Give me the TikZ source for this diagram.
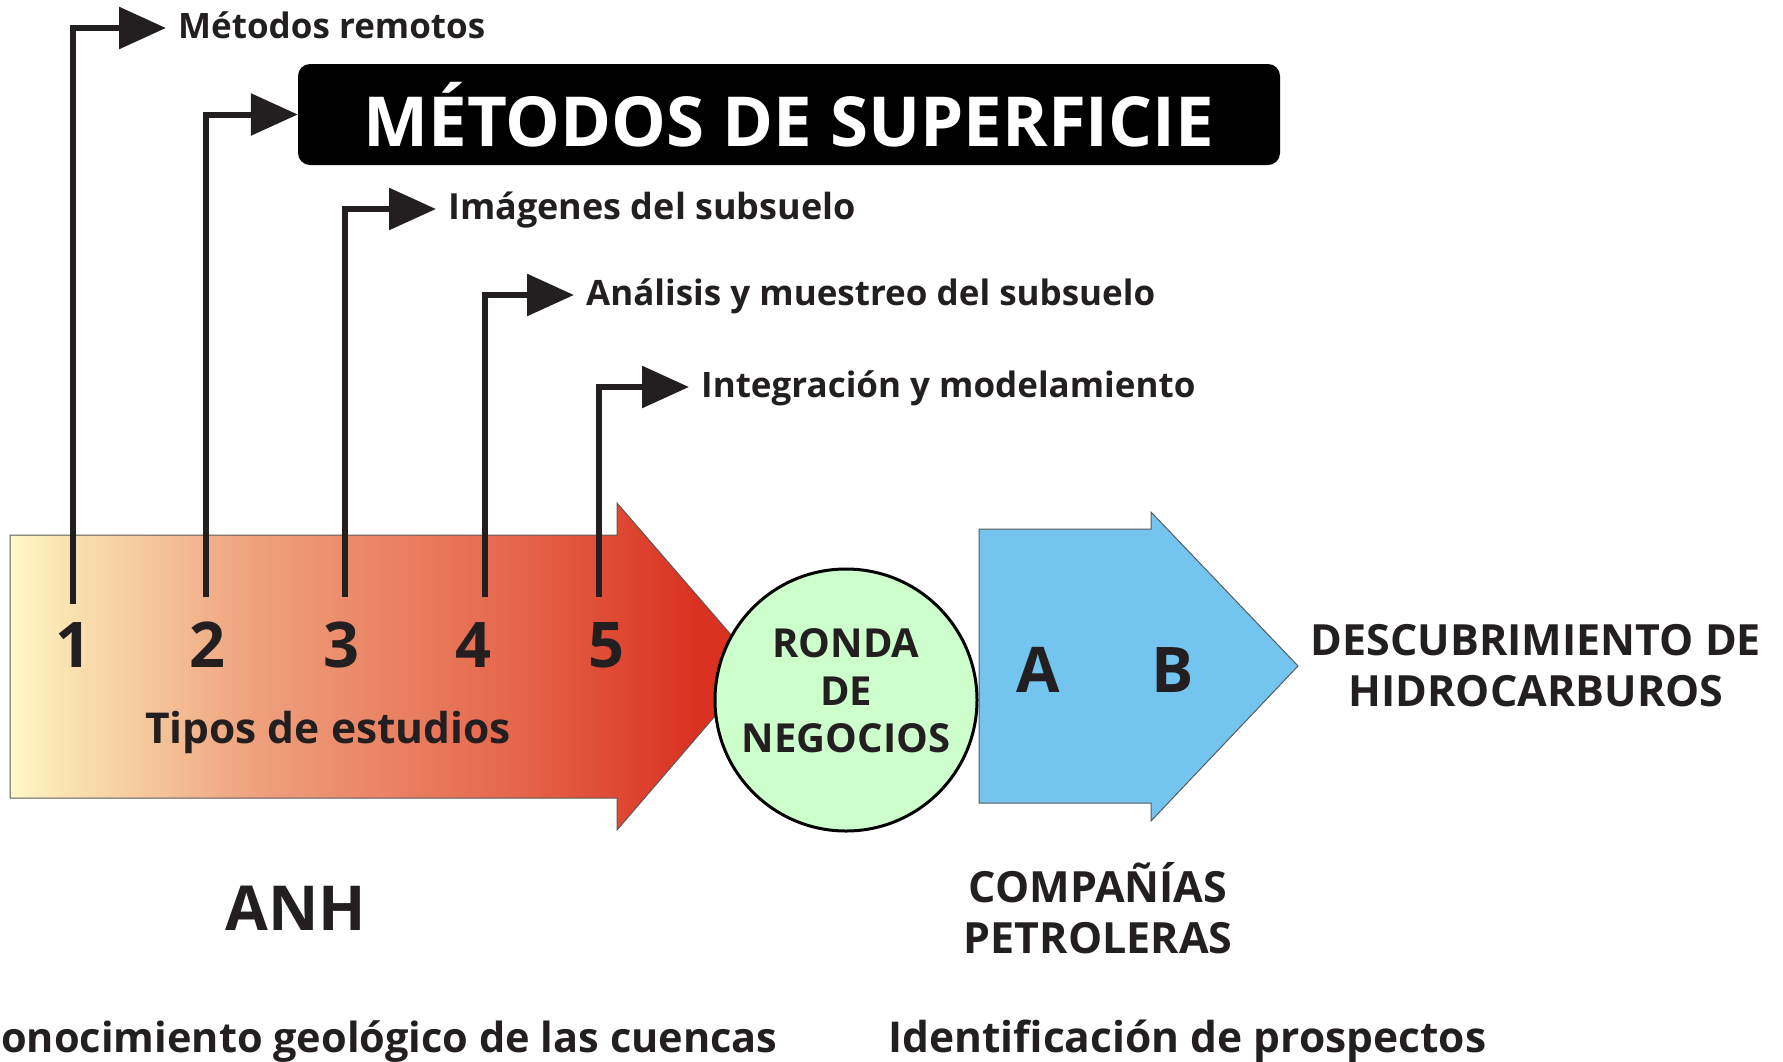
\documentclass[tikz,border=0pt]{standalone}
\usepackage{fontspec}
\setmainfont{Open Sans}
\usepackage{xcolor}
\usepackage{tikz}
\usetikzlibrary{positioning,calc,arrows.meta}

\definecolor{inkblack}{HTML}{231F20}
\definecolor{arrowedge}{HTML}{5A5A5A}
\definecolor{anhpale}{HTML}{FFF9C8}
\definecolor{anhcream}{HTML}{FBE6B4}
\definecolor{anhpeach}{HTML}{F5C89C}
\definecolor{anhsalmon}{HTML}{EFA27E}
\definecolor{anhcoral}{HTML}{E5654A}
\definecolor{anhred}{HTML}{DA3121}
\definecolor{rondagreen}{HTML}{CCFFCC}
\definecolor{petroblue}{HTML}{73C4EF}

\pgfdeclarehorizontalshading{anhfade}{100bp}{color(0bp)=(anhpale); color(25bp)=(anhpale); color(28bp)=(anhcream); color(34bp)=(anhpeach); color(41bp)=(anhsalmon); color(59bp)=(anhcoral); color(71bp)=(anhred); color(100bp)=(anhred)}

\begin{document}
\begin{tikzpicture}[x=1pt, y=-1pt, font=\bfseries,
    conn/.style={line width=6pt, draw=inkblack, -{Triangle[length=47pt,width=41pt]}},
    methodlabel/.style={anchor=west, inner xsep=12pt, inner ysep=0pt, text height=26pt, text depth=5pt,
        text=inkblack, font=\bfseries\fontsize{35}{42}\selectfont},
    stagenum/.style={anchor=base, inner sep=0pt, text=inkblack, font=\bfseries\fontsize{63}{70}\selectfont},
    caption/.style={align=center, inner sep=0pt, text=inkblack, font=\bfseries\fontsize{43}{51}\selectfont},
    bigcaption/.style={anchor=base, inner sep=0pt, text=inkblack, font=\bfseries\fontsize{62}{70}\selectfont},
    bottomline/.style={inner sep=0pt, text=inkblack, font=\bfseries\fontsize{42.5}{50}\selectfont}]

\useasboundingbox (0,0) rectangle (1783,1061);

% ANH arrow and companies arrow
\shadedraw[shading=anhfade, draw=arrowedge, line width=1pt]
    (10,535) -- (617,535) -- (617,503) -- (758,666) -- (617,830) -- (617,798) -- (10,798) -- cycle;
\filldraw[fill=petroblue, draw=arrowedge, line width=1pt]
    (979,529) -- (1151,529) -- (1151,512) -- (1298,666) -- (1151,821) -- (1151,803) -- (979,803) -- cycle;

\node[circle, draw=black, line width=3pt, fill=rondagreen, minimum size=262pt, inner sep=0pt,
    align=center, text depth=19pt, text=inkblack, font=\bfseries\fontsize{40}{47.5}\selectfont]
    (ronda) at (846,700) {RONDA\\DE\\NEGOCIOS};

% types of studies
\node[stagenum] (n1) at (73,667) {1};
\node[stagenum] (n2) at (207,667) {2};
\node[stagenum] (n3) at (341,667) {3};
\node[stagenum] (n4) at (473,667) {4};
\node[stagenum] (n5) at (606,667) {5};
\node[bottomline, anchor=base] (tipos) at (328,743) {Tipos de estudios};

\node[methodlabel] (remotos) at (166,28) {Métodos remotos};
\node[fill=black, rounded corners=12pt, minimum width=982pt, minimum height=101pt, inner sep=0pt,
    text=white, font=\bfseries\fontsize{69}{72}\selectfont] (superficie) at (789,114.5) {MÉTODOS DE SUPERFICIE};
\node[methodlabel] (imagenes) at (436,209) {\fontsize{36}{42}\selectfont Imágenes del subsuelo};
\node[methodlabel] (analisis) at (574,295) {Análisis y muestreo del subsuelo};
\node[methodlabel] (integracion) at (689,387) {Integración y modelamiento};

\coordinate (s1) at (73,604);
\coordinate (s2) at (206,597);
\coordinate (s3) at (345,597);
\coordinate (s4) at (485,597);
\coordinate (s5) at (599,597);

\draw[conn] (s1) |- (remotos.west);
\draw[conn] (s2) |- (superficie.west);
\draw[conn] (s3) |- (imagenes.west);
\draw[conn] (s4) |- (analisis.west);
\draw[conn] (s5) |- (integracion.west);

% companies side
\node[stagenum] (blockA) at (1038,692) {A};
\node[stagenum] (blockB) at (1173,692) {B};
\node[caption] (descubrimiento) at (1536,666) {DESCUBRIMIENTO DE\\HIDROCARBUROS};
\node[caption] (companias) at (1098,908) {COMPAÑÍAS\\PETROLERAS};
\node[bigcaption] (anh) at (296,930) {ANH};

\node[bottomline, anchor=base west, font=\bfseries\fontsize{41.5}{50}\selectfont] (conocimiento) at (1,1052) {onocimiento geológico de las cuencas};
\node[bottomline, anchor=base west] (prospectos) at (888,1052) {Identificación de prospectos};
\end{tikzpicture}
\end{document}
